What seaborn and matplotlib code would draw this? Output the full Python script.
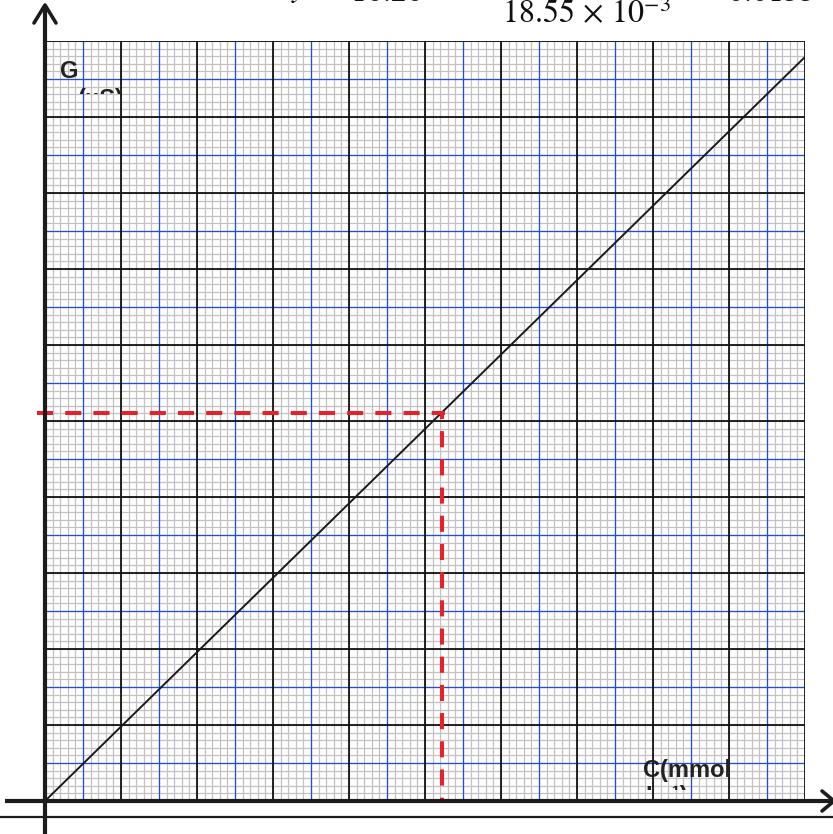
import numpy as np
import pandas as pd
import matplotlib
matplotlib.use("Agg")
import matplotlib.pyplot as plt
import seaborn as sns
from matplotlib.transforms import Bbox

# G against C, in large-square units of the graph paper
conc = [0.0, 10.0]
cond = [0.0, 9.79]
# value (red dashed guide)
c_read = 5.22
g_read = 5.10

x_label = "C(mmol"
x_label_cut = "L\u207b\u00b9)"
y_label = "G"
y_label_cut = "(\u03bcS)"
denominator = r"$18.55\,\times\,10^{-3}$"
numer_left = r"$10.20$"
numer_right = r"$0.0155$"

sns.set_style("white")
plt.rcParams['font.family'] = ['Liberation Sans', 'DejaVu Sans']
plt.rcParams['mathtext.fontset'] = 'stix'

W, H = 833, 834
fig = plt.figure(figsize=(W / 100, H / 100), dpi=100)
ax = fig.add_axes([45 / W, (H - 801) / H, 760 / W, 760 / H])
ax.set_xlim(0, 10)
ax.set_ylim(0, 10)

# graph paper: fine grey, blue half-squares, black squares
minor = np.arange(0, 10.001, 0.1)
half = np.arange(0.5, 10, 1.0)
major = np.arange(0, 10.001, 1.0)
ax.vlines(minor, 0, 10, color="#c2c2c2", lw=0.9, zorder=1)
ax.hlines(minor, 0, 10, color="#c2c2c2", lw=0.9, zorder=1)
ax.vlines(half, 0, 10, color="#1f4fd8", lw=0.9, zorder=2)
ax.hlines(half, 0, 10, color="#1f4fd8", lw=0.9, zorder=2)
ax.vlines(major, 0, 10, color="#111111", lw=1.3, zorder=3)
ax.hlines(major, 0, 10, color="#111111", lw=1.3, zorder=3)
for s in ax.spines.values():
    s.set_visible(False)
ax.set_xticks([])
ax.set_yticks([])

df = pd.DataFrame({"C": conc, "G": cond})
sns.lineplot(data=df, x="C", y="G", ax=ax, color="#1a1a1a", lw=1.4, zorder=4)
ax.set_xlabel("")
ax.set_ylabel("")

red = "#e8202a"
ax.plot([-0.105, c_read + 0.04], [g_read, g_read], color=red, lw=2.9,
        ls=(0, (4, 3)), dash_capstyle="butt", clip_on=False, zorder=5)
ax.plot([c_read, c_read], [g_read, 0], color=red, lw=2.9,
        ls=(2.5, (4, 3)), dash_capstyle="butt", clip_on=False, zorder=5)

# overlay in pixel units for the hand-drawn axes and labels
ov = fig.add_axes([0, 0, 1, 1], zorder=10)
ov.set_xlim(0, W)
ov.set_ylim(H, 0)
ov.axis("off")
ov.patch.set_visible(False)

k = "#1c1c1c"
ov.plot([45, 45], [834, 6], color=k, lw=3.0, solid_capstyle="butt")
ov.plot([34, 45, 56], [23, 5, 23], color=k, lw=2.6)
ov.plot([5, 833], [801, 801], color=k, lw=3.0, solid_capstyle="butt")
ov.plot([822, 834, 822], [791, 801, 811], color=k, lw=2.6)
ov.plot([0, 833], [817, 817], color=k, lw=1.6)

ov.text(60, 78, y_label, fontsize=17, fontweight="bold", color="#222222")
ov.text(643, 777, x_label, fontsize=17, fontweight="bold", color="#222222")

t1 = ov.text(78, 106, y_label_cut, fontsize=17, fontweight="bold", color="#222222")
t1.set_clip_box(Bbox.from_extents(0, H - 94, W, H - 86))
t1.set_clip_on(True)
t2 = ov.text(645, 803, x_label_cut, fontsize=17, fontweight="bold", color="#222222")
t2.set_clip_box(Bbox.from_extents(0, H - 790, W, H - 785))
t2.set_clip_on(True)

ov.text(502, 23, denominator, fontsize=23, color="#111111")
ov.text(291, -4, r"$y$", fontsize=23, color="#111111")
ov.text(350, 1, numer_left, fontsize=23, color="#111111")
ov.text(727, 1, numer_right, fontsize=23, color="#111111")

fig.savefig("out.png", dpi=100, facecolor="white")
